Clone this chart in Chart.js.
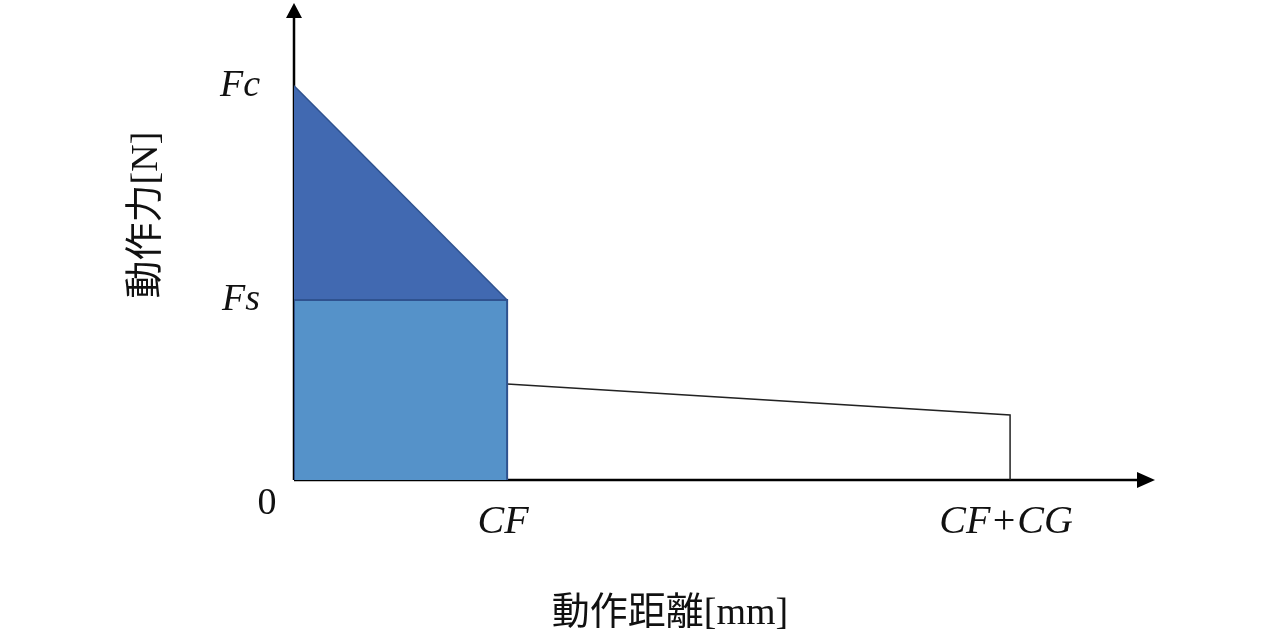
<!DOCTYPE html>
<html>
<head>
<meta charset="utf-8">
<script src="https://cdn.jsdelivr.net/npm/chart.js@4/dist/chart.umd.min.js"></script>
<style>
  html, body { margin: 0; padding: 0; background: #fff; }
  #wrap { width: 1284px; height: 634px; }
</style>
</head>
<body>
<div id="wrap"><canvas id="c" width="1284" height="634"></canvas></div>
<script>
// ---- data (in normalized units) ----
const CF = 1.0;            // close-force stroke end
const CFG = 3.36;          // CF + CG stroke end
const Fs = 1.0;            // static force level
const Fc = 2.19;           // peak force
const xMax = 4.04;         // end of x axis arrow
const yMax = 2.65;         // end of y axis arrow

const xTickValues = [CF, CFG];
const xTickLabels = ['CF', 'CF+CG'];
const yTickValues = [Fs, Fc];
const yTickLabels = ['Fs', 'Fc'];

const rectX = [0, 0, CF, CF];
const rectY = [0, Fs, Fs, 0];
const triX = [0, CF];
const triY = [Fc, Fs];
const returnX = [CF, CFG, CFG];
const returnY = [0.533, 0.361, 0];
const baseX = [0, CF];
const baseY = [0, 0];

const xTitle = '動作距離[mm]';
const yTitle = '動作力[N]';
const originLabel = '0';

const pts = (xs, ys) => xs.map((x, i) => ({ x: x, y: ys[i] }));

const serif = "'Liberation Serif', 'Times New Roman', serif";
const titleFont = "38px 'Liberation Serif', 'Noto Sans CJK JP', serif";

function zeroPad(s) { s.paddingTop = 0; s.paddingBottom = 0; s.paddingLeft = 0; s.paddingRight = 0; }

const axesPlugin = {
  id: 'axesArrows',
  beforeDatasetsDraw(chart) {
    const { ctx, scales: { x, y } } = chart;
    const x0 = x.getPixelForValue(0), y0 = y.getPixelForValue(0);
    const xe = x.getPixelForValue(xMax), ye = y.getPixelForValue(yMax);
    ctx.save();
    ctx.strokeStyle = '#000';
    ctx.fillStyle = '#000';
    ctx.lineWidth = 2.5;
    ctx.beginPath();
    ctx.moveTo(x0, y0); ctx.lineTo(xe - 10, y0);
    ctx.moveTo(x0, y0); ctx.lineTo(x0, ye + 10);
    ctx.stroke();
    // x arrow head
    ctx.beginPath();
    ctx.moveTo(xe, y0);
    ctx.lineTo(xe - 18, y0 - 8);
    ctx.lineTo(xe - 18, y0 + 8);
    ctx.closePath(); ctx.fill();
    // y arrow head
    ctx.beginPath();
    ctx.moveTo(x0, ye);
    ctx.lineTo(x0 - 8, ye + 15);
    ctx.lineTo(x0 + 8, ye + 15);
    ctx.closePath(); ctx.fill();
    ctx.restore();
  },
  afterDraw(chart) {
    const { ctx, scales: { x, y }, chartArea } = chart;
    const x0 = x.getPixelForValue(0), y0 = y.getPixelForValue(0);
    ctx.save();
    ctx.fillStyle = '#111';
    // origin label
    ctx.font = '38px ' + serif;
    ctx.textAlign = 'center';
    ctx.textBaseline = 'middle';
    ctx.fillText(originLabel, x0 - 27, y0 + 24);
    // x title
    ctx.font = titleFont;
    ctx.fillText(xTitle, chartArea.left + 376, y0 + 134);
    // y title
    ctx.translate(x0 - 147, chartArea.top + 212);
    ctx.rotate(-Math.PI / 2);
    ctx.fillText(yTitle, 0, 0);
    ctx.restore();
  }
};

new Chart(document.getElementById('c'), {
  type: 'line',
  data: {
    datasets: [
      {
        data: pts(rectX, rectY),
        fill: 'origin',
        backgroundColor: '#5592C9',
        borderColor: '#2F528F',
        borderWidth: 2,
        pointRadius: 0,
        tension: 0
      },
      {
        data: pts(triX, triY),
        fill: { value: Fs },
        backgroundColor: '#4169B1',
        borderColor: '#2F528F',
        borderWidth: 1.5,
        pointRadius: 0,
        tension: 0
      },
      {
        data: pts(baseX, baseY),
        fill: false,
        borderColor: '#2F528F',
        borderWidth: 2.5,
        pointRadius: 0
      },
      {
        data: pts(returnX, returnY),
        fill: false,
        borderColor: '#222',
        borderWidth: 1.5,
        pointRadius: 0,
        tension: 0
      }
    ]
  },
  options: {
    responsive: false,
    animation: false,
    events: [],
    layout: { padding: { top: 3, right: 129, left: 0, bottom: 0 } },
    plugins: { legend: { display: false }, tooltip: { enabled: false }, title: { display: false } },
    scales: {
      x: {
        type: 'linear',
        min: 0, max: xMax,
        grid: { display: false, drawTicks: false },
        border: { display: false },
        afterBuildTicks: (s) => { s.ticks = xTickValues.map(v => ({ value: v })); },
        afterFit: (s) => { s.height = 154; zeroPad(s); },
        ticks: {
          padding: 18,
          labelOffset: -4,
          color: '#111',
          maxRotation: 0,
          autoSkip: false,
          font: { family: serif, size: 40, style: 'italic' },
          callback: (v) => xTickLabels[xTickValues.indexOf(v)]
        }
      },
      y: {
        type: 'linear',
        min: 0, max: yMax,
        grid: { display: false, drawTicks: false },
        border: { display: false },
        afterBuildTicks: (s) => { s.ticks = yTickValues.map(v => ({ value: v })); },
        afterFit: (s) => { s.width = 294; zeroPad(s); },
        ticks: {
          padding: 34,
          color: '#111',
          autoSkip: false,
          font: { family: serif, size: 38, style: 'italic' },
          callback: (v) => yTickLabels[yTickValues.indexOf(v)]
        }
      }
    }
  },
  plugins: [axesPlugin]
});
</script>
</body>
</html>
